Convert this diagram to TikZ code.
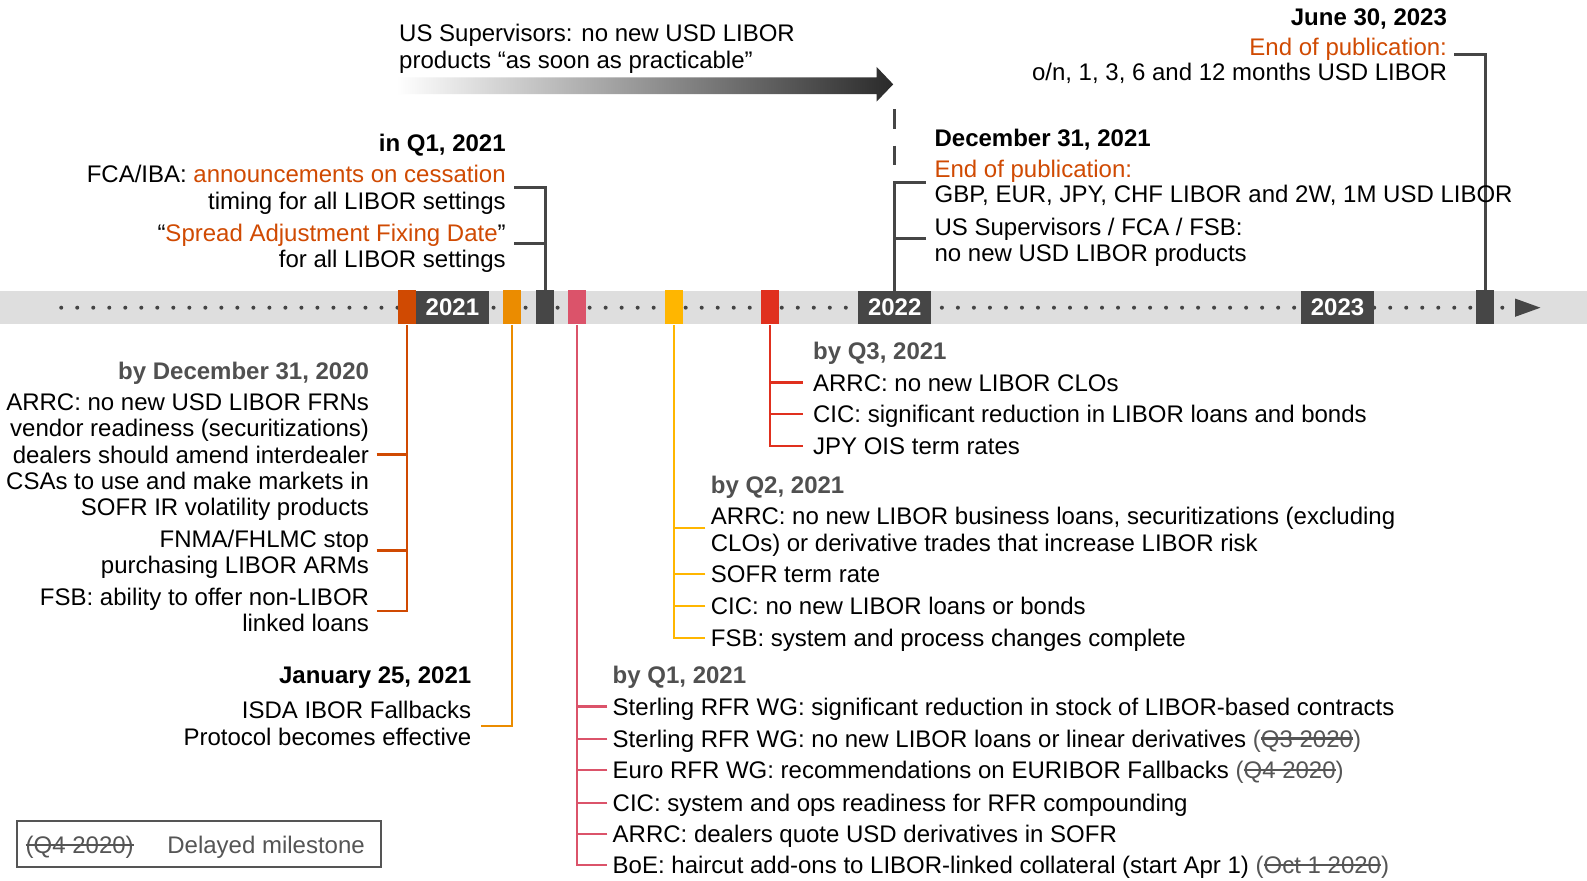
\documentclass[tikz,border=0pt]{standalone}
\usepackage{fontspec}
\setmainfont{Liberation Sans}
\usetikzlibrary{calc}
\definecolor{cOrange}{HTML}{D04A02}
\definecolor{cTang}{HTML}{EB8C00}
\definecolor{cYellow}{HTML}{FFB600}
\definecolor{cRose}{HTML}{DB536A}
\definecolor{cRed}{HTML}{E0301E}
\definecolor{cDark}{HTML}{464646}
\definecolor{cBar}{HTML}{DEDEDE}
\definecolor{cDot}{HTML}{444444}
\definecolor{cHead}{HTML}{505050}
\definecolor{cStrike}{HTML}{555555}
\definecolor{cLeg}{HTML}{555555}
\definecolor{cArrow}{HTML}{2A2A2A}
\newcommand\strk[1]{\setbox0\hbox{#1}\rlap{\textcolor{cStrike}{\rule[0.33em]{\wd0}{0.085em}}}\box0}
\newcommand\delayed[1]{\textcolor{cStrike}{(\strk{#1})}}
\begin{document}
\begin{tikzpicture}[x=0.50606pt,y=-0.50606pt,
  txt/.style={font=\fontsize{12}{14}\selectfont, inner sep=0pt, text=black},
  lt/.style={txt, anchor=base west},
  rt/.style={txt, anchor=base east},
  lb/.style={lt, font=\fontsize{12}{14}\selectfont\bfseries},
  rb/.style={rt, font=\fontsize{12}{14}\selectfont\bfseries},
  lg/.style={lb, text=cHead},
  rg/.style={rb, text=cHead},
  marker/.style={draw=none, minimum width=9.1pt, minimum height=17.2pt, inner sep=0pt},
  yearbox/.style={fill=cDark, text=white, font=\fontsize{12}{14}\selectfont\bfseries, minimum width=36.4pt, minimum height=16.7pt, inner sep=0pt},
  darkln/.style={draw=cDark, line width=1.5pt, line join=miter},
  colln/.style={line width=1.1pt, line join=miter}
]
\useasboundingbox (0,0) rectangle (1568,869.5);
\fill[white] (0,0) rectangle (1568,869.5);

% timeline bar
\fill[cBar] (0,287.5) rectangle (1568,320.5);
\foreach \k in {0,...,90} \fill[cDot] (60.5+15.82*\k,304) circle (1pt);
\node[yearbox] (y2021) at (447,304) {2021};
\node[yearbox] (y2022) at (884,304) {2022};
\node[yearbox] (y2023) at (1321.5,304) {2023};
\node[marker, fill=cOrange] (mDec20) at (402,303.5) {};
\node[marker, fill=cTang] (mJan) at (506,303.5) {};
\node[marker, fill=cDark] (mQ1a) at (538.5,303.5) {};
\node[marker, fill=cRose] (mQ1b) at (570,303.5) {};
\node[marker, fill=cYellow] (mQ2) at (666,303.5) {};
\node[marker, fill=cRed] (mQ3) at (761,303.5) {};
\node[marker, fill=cDark] (mJun) at (1467.5,303.5) {};
\fill[cDark] (1497,295) -- (1522,304) -- (1497,313) -- cycle;

% top gradient arrow
\shade[left color=white, right color=cArrow] (392,76.4) -- (866,76.4) -- (866,66) -- (882.5,83.3) -- (866,100.5) -- (866,92.9) -- (392,92.9) -- cycle;
\node[lt] (us1) at (394,41.5) {US Supervisors: no new USD LIBOR};
\node[lt] (us2) at (394,67.5) {products “as soon as practicable”};

% June 30, 2023
\node[rb] (jun0) at (1430,25.5) {June 30, 2023};
\node[rt, text=cOrange] (jun1) at (1430,54.5) {End of publication:};
\node[rt] (jun2) at (1430,79.5) {o/n, 1, 3, 6 and 12 months USD LIBOR};
\coordinate (junT) at (1437,54);
\draw[darkln] (junT) -| (mJun.north);

% in Q1, 2021
\node[rb] (iq0) at (500,149.5) {in Q1, 2021};
\node[rt] (iq1) at (500,180.5) {FCA/IBA: \textcolor{cOrange}{announcements on cessation}};
\node[rt] (iq2) at (500,206.5) {timing for all LIBOR settings};
\node[rt] (iq3) at (500,238.5) {“\textcolor{cOrange}{Spread Adjustment Fixing Date}”};
\node[rt] (iq4) at (500,264.5) {for all LIBOR settings};
\coordinate (iqT1) at (508,185);
\coordinate (iqT2) at (508,241);
\draw[darkln] (iqT1) -| (mQ1a.north);
\draw[darkln] (iqT2) -- (iqT2 -| mQ1a.north);

% December 31, 2021
\node[lb] (d0) at (923,144.5) {December 31, 2021};
\node[lt, text=cOrange] (d1) at (923,175.5) {End of publication:};
\node[lt] (d2) at (923,200.5) {GBP, EUR, JPY, CHF LIBOR and 2W, 1M USD LIBOR};
\node[lt] (d3) at (923,232.5) {US Supervisors / FCA / FSB:};
\node[lt] (d4) at (923,258.5) {no new USD LIBOR products};
\coordinate (dTop) at (884,180);
\coordinate (dDash) at (884,108);
\coordinate (dT1) at (915,180);
\coordinate (dT2) at (915,236);
\draw[darkln] (y2022.north) -- (dTop) -- (dT1);
\draw[darkln] (dT2) -- (dT2 -| y2022.north);
\draw[darkln, dash pattern=on 9.6pt off 8.6pt] (dDash) -- (dTop);

% by December 31, 2020
\node[rg] (a0) at (365,374.5) {by December 31, 2020};
\node[rt] (a1) at (365,405.5) {ARRC: no new USD LIBOR FRNs};
\node[rt] (a2) at (365,431.5) {vendor readiness (securitizations)};
\node[rt] (a3) at (365,457.5) {dealers should amend interdealer};
\node[rt] (a4) at (365,483.5) {CSAs to use and make markets in};
\node[rt] (a5) at (365,509.5) {SOFR IR volatility products};
\node[rt] (a6) at (365,540.5) {FNMA/FHLMC stop};
\node[rt] (a7) at (365,566.5) {purchasing LIBOR ARMs};
\node[rt] (a8) at (365,598.5) {FSB: ability to offer non-LIBOR};
\node[rt] (a9) at (365,623.5) {linked loans};
\coordinate (aT1) at (372,449);
\coordinate (aT2) at (372,544);
\coordinate (aT3) at (372,604);
\draw[colln, draw=cOrange] (mDec20.south) |- (aT3);
\draw[colln, draw=cOrange] (aT1) -- (aT1 -| mDec20.south);
\draw[colln, draw=cOrange] (aT2) -- (aT2 -| mDec20.south);

% January 25, 2021
\node[rb] (j0) at (466,675.5) {January 25, 2021};
\node[rt] (j1) at (466,709.5) {ISDA IBOR Fallbacks};
\node[rt] (j2) at (466,736.5) {Protocol becomes effective};
\coordinate (jT) at (475,717);
\draw[colln, draw=cTang] (mJan.south) |- (jT);

% by Q1, 2021
\node[lg] (p0) at (605,675.5) {by Q1, 2021};
\node[lt] (p1) at (605,706.5) {Sterling RFR WG: significant reduction in stock of LIBOR-based contracts};
\node[lt] (p2) at (605,738.5) {Sterling RFR WG: no new LIBOR loans or linear derivatives \delayed{Q3 2020}};
\node[lt] (p3) at (605,769.5) {Euro RFR WG: recommendations on EURIBOR Fallbacks \delayed{Q4 2020}};
\node[lt] (p4) at (605,801.5) {CIC: system and ops readiness for RFR compounding};
\node[lt] (p5) at (605,832.5) {ARRC: dealers quote USD derivatives in SOFR};
\node[lt] (p6) at (605,863.5) {BoE: haircut add-ons to LIBOR-linked collateral (start Apr 1) \delayed{Oct 1 2020}};
\coordinate (pT1) at (600,698);
\coordinate (pT2) at (600,730);
\coordinate (pT3) at (600,761);
\coordinate (pT4) at (600,793);
\coordinate (pT5) at (600,824);
\coordinate (pT6) at (600,855);
\draw[colln, draw=cRose] (mQ1b.south) |- (pT6);
\foreach \t in {pT1,pT2,pT3,pT4,pT5} \draw[colln, draw=cRose] (\t) -- (\t -| mQ1b.south);

% by Q2, 2021
\node[lg] (q0) at (702,487.5) {by Q2, 2021};
\node[lt] (q1) at (702,518.5) {ARRC: no new LIBOR business loans, securitizations (excluding};
\node[lt] (q2) at (702,544.5) {CLOs) or derivative trades that increase LIBOR risk};
\node[lt] (q3) at (702,575.5) {SOFR term rate};
\node[lt] (q4) at (702,607.5) {CIC: no new LIBOR loans or bonds};
\node[lt] (q5) at (702,638.5) {FSB: system and process changes complete};
\coordinate (qT1) at (697,522);
\coordinate (qT2) at (697,567);
\coordinate (qT3) at (697,599);
\coordinate (qT4) at (697,630);
\draw[colln, draw=cYellow] (mQ2.south) |- (qT4);
\foreach \t in {qT1,qT2,qT3} \draw[colln, draw=cYellow] (\t) -- (\t -| mQ2.south);

% by Q3, 2021
\node[lg] (r0) at (803,355.5) {by Q3, 2021};
\node[lt] (r1) at (803,386.5) {ARRC: no new LIBOR CLOs};
\node[lt] (r2) at (803,417.5) {CIC: significant reduction in LIBOR loans and bonds};
\node[lt] (r3) at (803,449.5) {JPY OIS term rates};
\coordinate (rT1) at (793,378);
\coordinate (rT2) at (793,409);
\coordinate (rT3) at (793,441);
\draw[colln, draw=cRed] (mQ3.south) |- (rT3);
\foreach \t in {rT1,rT2} \draw[colln, draw=cRed] (\t) -- (\t -| mQ3.south);

% legend
\draw[draw=cLeg, line width=1pt] (17,811) rectangle (376,857);
\node[lt, text=cStrike] (lg1) at (25,843.5) {\strk{(Q4 2020)}};
\node[lt, text=cStrike] (lg2) at (165,843.5) {Delayed milestone};
\end{tikzpicture}
\end{document}
